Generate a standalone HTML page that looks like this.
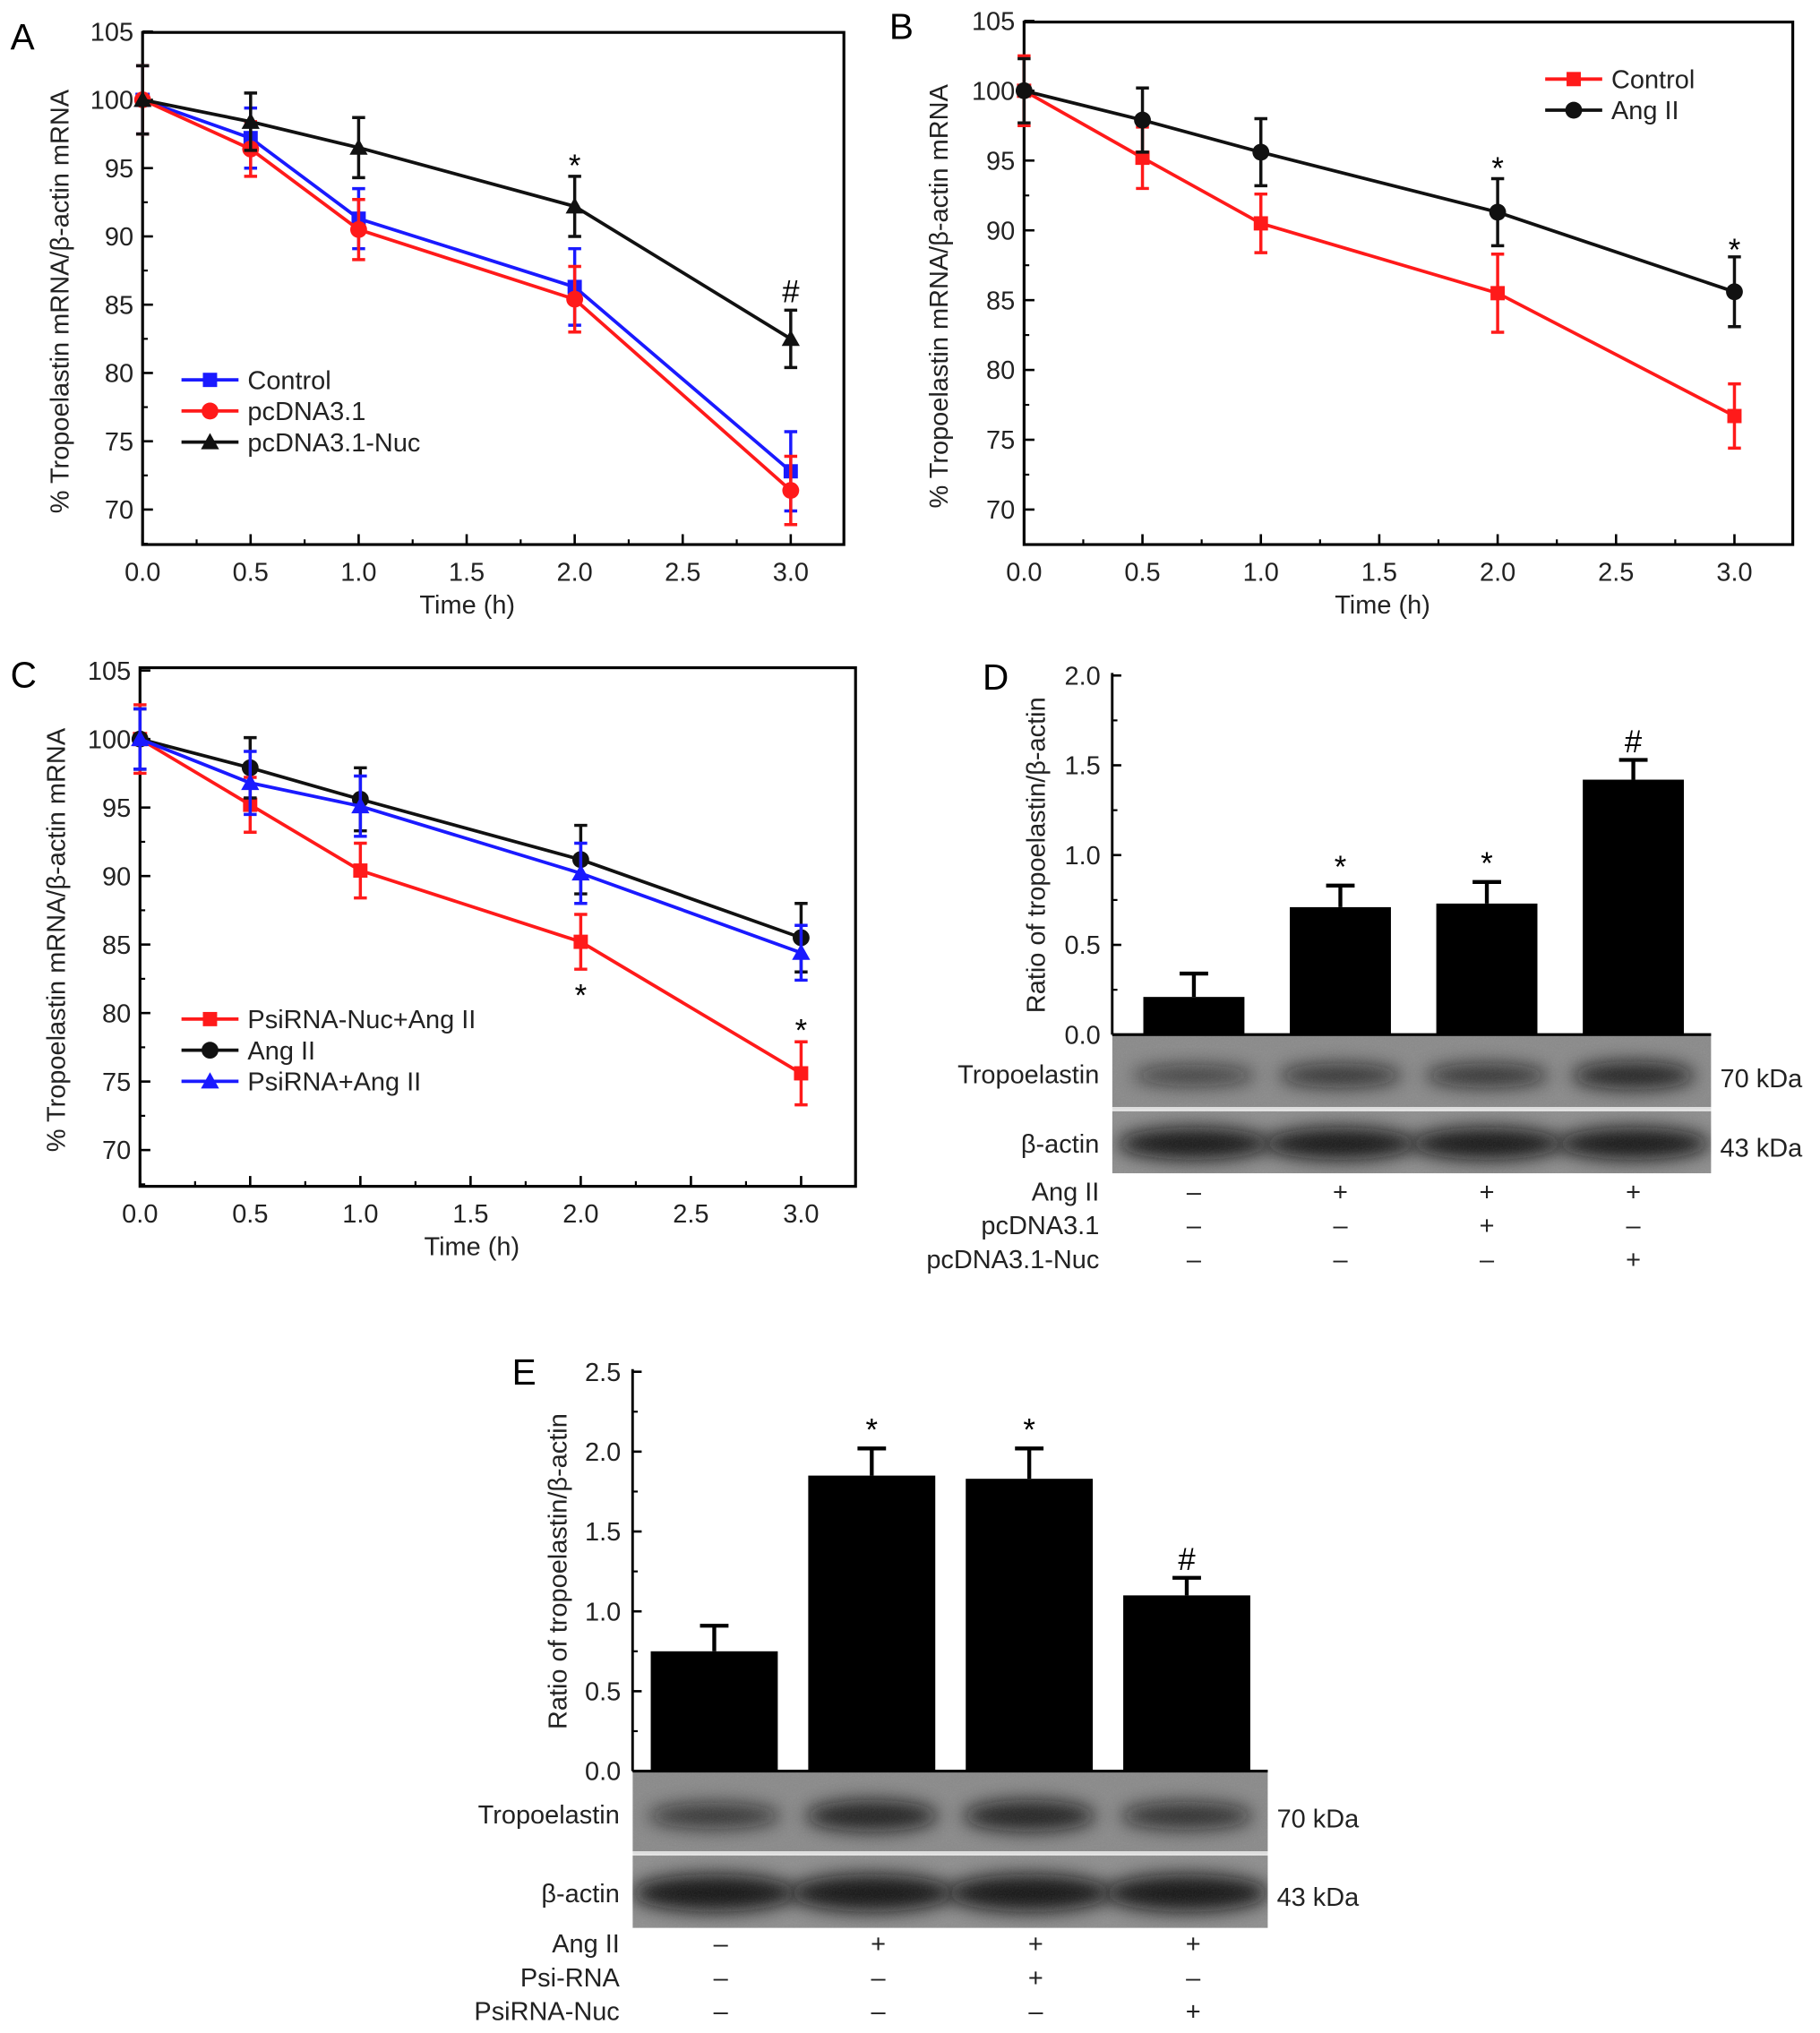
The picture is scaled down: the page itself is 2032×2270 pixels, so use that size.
<!DOCTYPE html>
<html><head><meta charset="utf-8"><style>
html,body{margin:0;padding:0;background:#fff}
svg{display:block;font-family:"Liberation Sans",Arial,sans-serif}
</style></head><body>
<svg id="fig" width="2032" height="2270" viewBox="0 0 1404 1568" preserveAspectRatio="none" xmlns="http://www.w3.org/2000/svg">
<defs>
<filter id="blur" x="-30%" y="-80%" width="160%" height="260%"><feGaussianBlur stdDeviation="7"/></filter>
<filter id="noise" x="0" y="0" width="1" height="1" filterUnits="objectBoundingBox"><feTurbulence type="fractalNoise" baseFrequency="0.9" numOctaves="2" result="n"/><feColorMatrix type="saturate" values="0"/><feComponentTransfer><feFuncA type="linear" slope="0.25"/></feComponentTransfer></filter>
<clipPath id="clipD"><rect x="858" y="799" width="462" height="106"/></clipPath>
<clipPath id="clipE"><rect x="488" y="1367" width="490" height="120"/></clipPath>
</defs>
</svg>
<script>
// ---------- data ----------
const timeCats = [0, 0.5, 1.0, 2.0, 3.0];
const xTickLabels = ["0.0","0.5","1.0","1.5","2.0","2.5","3.0"];
const yTickLabelsLine = [70,75,80,85,90,95,100,105];

const aControl = [100, 97.2, 91.3, 86.3, 72.8];
const aControlErr = [2.5, 2.2, 2.2, 2.8, 2.9];
const aPc = [100, 96.4, 90.5, 85.4, 71.4];
const aPcErr = [2.5, 2.0, 2.2, 2.4, 2.5];
const aNuc = [100, 98.4, 96.5, 92.2, 82.5];
const aNucErr = [2.5, 2.1, 2.2, 2.2, 2.1];

const bControl = [100, 95.2, 90.5, 85.5, 76.7];
const bControlErr = [2.5, 2.2, 2.1, 2.8, 2.3];
const bAng = [100, 97.9, 95.6, 91.3, 85.6];
const bAngErr = [2.3, 2.3, 2.4, 2.4, 2.5];

const cPsiNuc = [100, 95.2, 90.4, 85.2, 75.6];
const cPsiNucErr = [2.5, 2.0, 2.0, 2.0, 2.3];
const cAng = [100, 97.9, 95.6, 91.2, 85.5];
const cAngErr = [2.2, 2.2, 2.3, 2.5, 2.5];
const cPsi = [100, 96.8, 95.1, 90.2, 84.4];
const cPsiErr = [2.2, 2.3, 2.2, 2.2, 2.0];

const dValues = [0.21, 0.71, 0.73, 1.42];
const dErr = [0.13, 0.12, 0.12, 0.11];
const dMarks = ["", "*", "*", "#"];
const dTicks = ["0.0","0.5","1.0","1.5","2.0"];

const eValues = [0.75, 1.85, 1.83, 1.10];
const eErr = [0.16, 0.17, 0.19, 0.11];
const eMarks = ["", "*", "*", "#"];
const eTicks = ["0.0","0.5","1.0","1.5","2.0","2.5"];

// ---------- helpers ----------
const NS = "http://www.w3.org/2000/svg";
const svg = document.getElementById('fig');
function mk(tag, attrs, parent, txt) {
  const e = document.createElementNS(NS, tag);
  for (const k in attrs) e.setAttribute(k, attrs[k]);
  if (txt !== undefined) e.textContent = txt;
  (parent || svg).appendChild(e);
  return e;
}
function marker(g, shape, x, y, color) {
  let m;
  if (shape === 'sq') m = mk('rect', {x: x-5.5, y: y-5.5, width: 11, height: 11, fill: color}, g);
  else if (shape === 'ci') m = mk('circle', {cx: x, cy: y, r: 6.5, fill: color}, g);
  else m = mk('polygon', {points: `${x},${y-7} ${x-7},${y+5.5} ${x+7},${y+5.5}`, fill: color}, g);
  return m;
}

function lineChart(cfg) {
  const g = mk('g', {});
  
  
  const X = v => cfg.x0 + (v / 3) * (cfg.x3 - cfg.x0);
  const Y = v => cfg.y70 + (v - 70) * (cfg.y100 - cfg.y70) / 30;
  const fr = mk('rect', {x: cfg.left, y: cfg.top, width: cfg.right - cfg.left, height: cfg.bottom - cfg.top, fill: 'none', stroke: '#000', 'stroke-width': 2.2}, g);
  
  
  xTickLabels.forEach((t, i) => {
    const v = i * 0.5, x = X(v);
    mk('line', {x1: x, y1: cfg.bottom, x2: x, y2: cfg.bottom - 8, stroke: '#000', 'stroke-width': 1.8}, g);
    if (i < 6) mk('line', {x1: X(v + 0.25), y1: cfg.bottom, x2: X(v + 0.25), y2: cfg.bottom - 4, stroke: '#000', 'stroke-width': 1.5}, g);
    const tl = mk('text', {x: x, y: cfg.bottom + 28, 'font-size': 20, 'text-anchor': 'middle', fill: '#222'}, g, t);
    
    
  });
  yTickLabelsLine.forEach(t => {
    const y = Y(t);
    mk('line', {x1: cfg.left, y1: y, x2: cfg.left + 8, y2: y, stroke: '#000', 'stroke-width': 1.8}, g);
    if (Y(t - 2.5) < cfg.bottom) mk('line', {x1: cfg.left, y1: Y(t - 2.5), x2: cfg.left + 4, y2: Y(t - 2.5), stroke: '#000', 'stroke-width': 1.5}, g);
    const tl = mk('text', {x: cfg.left - 7, y: y + 7, 'font-size': 20, 'text-anchor': 'end', fill: '#222'}, g, t);
    
    
  });
  const xt = mk('text', {x: (cfg.left + cfg.right) / 2 - 20, y: cfg.bottom + 53, 'font-size': 20, 'text-anchor': 'middle', fill: '#222'}, g, 'Time (h)');
  
  
  const cy = (cfg.top + cfg.bottom) / 2 + 10;
  const yt = mk('text', {x: cfg.ytx, y: cy, 'font-size': 20, 'text-anchor': 'middle', fill: '#222', transform: `rotate(-90 ${cfg.ytx} ${cy})`}, g, '% Tropoelastin mRNA/β-actin mRNA');
  
  
  const pl = mk('text', {x: cfg.plx, y: cfg.ply, 'font-size': 28, fill: '#000'}, g, cfg.letter);
  
  
  cfg.series.forEach(s => {
    const sg = mk('g', {}, g);
    
    
    const pts = timeCats.map((t, i) => X(t) + ',' + Y(s.v[i])).join(' ');
    const ln = mk('polyline', {points: pts, fill: 'none', stroke: s.c, 'stroke-width': 2.6}, sg);
    
    
    timeCats.forEach((t, i) => {
      const x = X(t), y = Y(s.v[i]), e = s.e[i];
      const eb = mk('path', {d: `M${x},${Y(s.v[i] - e)}V${Y(s.v[i] + e)}M${x - 5},${Y(s.v[i] + e)}h10M${x - 5},${Y(s.v[i] - e)}h10`, stroke: s.c, 'stroke-width': 2.4, fill: 'none'}, sg);
      
      
      const m = marker(sg, s.m, x, y, s.c);
      
      
    });
  });
  (cfg.ann || []).forEach(a => {
    const at = mk('text', {x: X(a.t), y: a.y + 3, 'font-size': 24, 'text-anchor': 'middle', fill: '#000'}, g, a.s);
    
    
  });
  const lg = mk('g', {}, g);
  
  
  cfg.series.forEach((s, i) => {
    const y = cfg.lgy + i * 24;
    const le = mk('g', {}, lg);
    
    
    mk('line', {x1: cfg.lgx, y1: y, x2: cfg.lgx + 44, y2: y, stroke: s.c, 'stroke-width': 2.6}, le);
    marker(le, s.m, cfg.lgx + 22, y, s.c);
    mk('text', {x: cfg.lgx + 51, y: y + 7, 'font-size': 20, fill: '#222'}, le, s.label);
  });
}

lineChart({name: 'panel-a-chart', letter: 'A', plx: 8, ply: 38, left: 110, top: 25, right: 651, bottom: 420, x0: 110, x3: 610, y70: 393, y100: 77, ytx: 53,
  series: [
    {label: 'Control', v: aControl, e: aControlErr, c: '#1a1aff', m: 'sq'},
    {label: 'pcDNA3.1', v: aPc, e: aPcErr, c: '#ff1a1a', m: 'ci'},
    {label: 'pcDNA3.1-Nuc', v: aNuc, e: aNucErr, c: '#111', m: 'tr'}],
  ann: [{t: 2.0, y: 133, s: '*'}, {t: 3.0, y: 230, s: '#'}], lgx: 140, lgy: 293});

lineChart({name: 'panel-b-chart', letter: 'B', plx: 686, ply: 30, left: 790, top: 17, right: 1383, bottom: 420, x0: 790, x3: 1338, y70: 393, y100: 70, ytx: 731,
  series: [
    {label: 'Control', v: bControl, e: bControlErr, c: '#ff1a1a', m: 'sq'},
    {label: 'Ang II', v: bAng, e: bAngErr, c: '#111', m: 'ci'}],
  ann: [{t: 2.0, y: 135, s: '*'}, {t: 3.0, y: 198, s: '*'}], lgx: 1192, lgy: 61});

lineChart({name: 'panel-c-chart', letter: 'C', plx: 8, ply: 530, left: 108, top: 515, right: 660, bottom: 915, x0: 108, x3: 618, y70: 887, y100: 570, ytx: 50,
  series: [
    {label: 'PsiRNA-Nuc+Ang II', v: cPsiNuc, e: cPsiNucErr, c: '#ff1a1a', m: 'sq'},
    {label: 'Ang II', v: cAng, e: cAngErr, c: '#111', m: 'ci'},
    {label: 'PsiRNA+Ang II', v: cPsi, e: cPsiErr, c: '#1a1aff', m: 'tr'}],
  ann: [{t: 2.0, y: 773, s: '*'}, {t: 3.0, y: 800, s: '*'}], lgx: 140, lgy: 786});

function barChart(cfg) {
  const g = mk('g', {});
  
  
  const maxV = parseFloat(cfg.ticks[cfg.ticks.length - 1]);
  const Y = v => cfg.y0 - v / maxV * (cfg.y0 - cfg.yTop);
  mk('line', {x1: cfg.left, y1: cfg.yTop - 2, x2: cfg.left, y2: cfg.y0, stroke: '#000', 'stroke-width': 2}, g);
  cfg.ticks.forEach((t, i) => {
    const v = parseFloat(t), y = Y(v);
    mk('line', {x1: cfg.left, y1: y, x2: cfg.left + 7, y2: y, stroke: '#000', 'stroke-width': 1.8}, g);
    if (i < cfg.ticks.length - 1) mk('line', {x1: cfg.left, y1: Y(v + 0.25), x2: cfg.left + 4, y2: Y(v + 0.25), stroke: '#000', 'stroke-width': 1.5}, g);
    const tl = mk('text', {x: cfg.left - 9, y: y + 7, 'font-size': 20, 'text-anchor': 'end', fill: '#222'}, g, t);
    
    
  });
  const cy = (cfg.yTop + cfg.y0) / 2;
  const yt = mk('text', {x: cfg.ytx, y: cy, 'font-size': 20, 'text-anchor': 'middle', fill: '#222', transform: `rotate(-90 ${cfg.ytx} ${cy})`}, g, 'Ratio of tropoelastin/β-actin');
  
  
  const pl = mk('text', {x: cfg.plx, y: cfg.ply, 'font-size': 28, fill: '#000'}, g, cfg.letter);
  
  
  cfg.values.forEach((v, i) => {
    const cx = cfg.c0 + i * cfg.step;
    const b = mk('rect', {x: cx - cfg.bw / 2, y: Y(v), width: cfg.bw, height: cfg.y0 - Y(v), fill: '#000'}, g);
    
    
    const top = Y(v + cfg.err[i]);
    const eb = mk('path', {d: `M${cx},${Y(v)}V${top}M${cx - 11},${top}h22`, stroke: '#000', 'stroke-width': 3, fill: 'none'}, g);
    
    
    if (cfg.marks[i]) {
      const m = mk('text', {x: cx, y: top - 6, 'font-size': 24, 'text-anchor': 'middle', fill: '#000'}, g, cfg.marks[i]);
      
      
    }
  });
  const bl = mk('g', {'clip-path': cfg.clip}, g);
  
  
  const bh1 = cfg.split - cfg.y0 - 2, bh2 = cfg.blotBottom - cfg.split - 2;
  mk('rect', {x: cfg.left, y: cfg.y0 + 1, width: cfg.right - cfg.left, height: bh1, fill: '#8a8a8a'}, bl);
  mk('rect', {x: cfg.left, y: cfg.split + 2, width: cfg.right - cfg.left, height: bh2, fill: '#8e8e8e'}, bl);
  cfg.values.forEach((v, i) => {
    const cx = cfg.c0 + i * cfg.step;
    mk('ellipse', {cx: cx, cy: (cfg.y0 + cfg.split) / 2 + 3, rx: cfg.step * 0.42, ry: bh1 * (0.14 + 0.08 * (v / maxV)), fill: '#111', opacity: 0.6 + 0.35 * v / maxV, filter: 'url(#blur)'}, bl);
    mk('ellipse', {cx: cx, cy: (cfg.split + cfg.blotBottom) / 2 + 2, rx: cfg.step * 0.52, ry: bh2 * 0.26, fill: '#0a0a0a', opacity: 0.95, filter: 'url(#blur)'}, bl);
  });
  mk('rect', {x: cfg.left, y: cfg.y0 + 1, width: cfg.right - cfg.left, height: cfg.blotBottom - cfg.y0, fill: '#000', filter: 'url(#noise)', opacity: 0.5}, bl);
  mk('line', {x1: cfg.left, y1: cfg.split, x2: cfg.right, y2: cfg.split, stroke: '#ddd', 'stroke-width': 2.5}, bl);
  mk('line', {x1: cfg.left, y1: cfg.y0, x2: cfg.right, y2: cfg.y0, stroke: '#000', 'stroke-width': 2.2}, g);
  const t1 = mk('text', {x: cfg.left - 10, y: (cfg.y0 + cfg.split) / 2 + 9, 'font-size': 20, 'text-anchor': 'end', fill: '#222'}, g, 'Tropoelastin');
  
  
  const t2 = mk('text', {x: cfg.left - 10, y: (cfg.split + cfg.blotBottom) / 2 + 9, 'font-size': 20, 'text-anchor': 'end', fill: '#222'}, g, 'β-actin');
  
  
  const k1 = mk('text', {x: cfg.right + 7, y: (cfg.y0 + cfg.split) / 2 + 12, 'font-size': 20, fill: '#222'}, g, '70 kDa');
  
  
  const k2 = mk('text', {x: cfg.right + 7, y: (cfg.split + cfg.blotBottom) / 2 + 12, 'font-size': 20, fill: '#222'}, g, '43 kDa');
  
  
  cfg.rows.forEach((r, j) => {
    const y = cfg.rowY + j * 26;
    const rl = mk('text', {x: cfg.left - 10, y: y, 'font-size': 20, 'text-anchor': 'end', fill: '#222'}, g, r.label);
    
    
    r.signs.forEach((s, i) => {
      const st = mk('text', {x: cfg.c0 + i * cfg.step + (cfg.signDx || 0), y: y, 'font-size': 20, 'text-anchor': 'middle', fill: '#222'}, g, s);
      
      
    });
  });
}

barChart({name: 'panel-d-chart', letter: 'D', plx: 758, ply: 532, left: 858, right: 1320, y0: 798, yTop: 521, split: 855, blotBottom: 905, clip: 'url(#clipD)',
  c0: 921, step: 113, bw: 78, values: dValues, err: dErr, marks: dMarks, ticks: dTicks, ytx: 806, signDx: 0,
  rowY: 926, rows: [
    {label: 'Ang II', signs: ['–', '+', '+', '+']},
    {label: 'pcDNA3.1', signs: ['–', '–', '+', '–']},
    {label: 'pcDNA3.1-Nuc', signs: ['–', '–', '–', '+']}]});

barChart({name: 'panel-e-chart', letter: 'E', plx: 395, ply: 1068, left: 488, right: 978, y0: 1366, yTop: 1058, split: 1429, blotBottom: 1487, clip: 'url(#clipE)',
  c0: 551, step: 121.5, bw: 98, values: eValues, err: eErr, marks: eMarks, ticks: eTicks, ytx: 437, signDx: 5,
  rowY: 1506, rows: [
    {label: 'Ang II', signs: ['–', '+', '+', '+']},
    {label: 'Psi-RNA', signs: ['–', '–', '+', '–']},
    {label: 'PsiRNA-Nuc', signs: ['–', '–', '–', '+']}]});
</script>
</body></html>
